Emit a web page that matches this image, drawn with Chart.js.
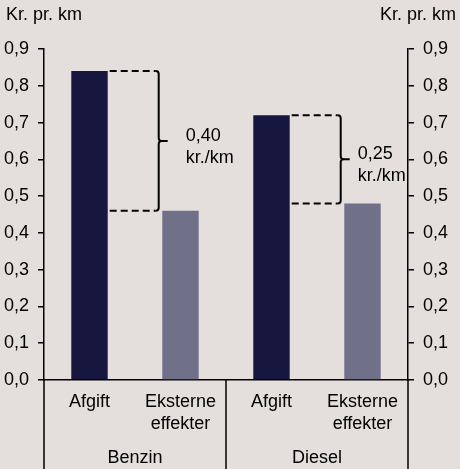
<!DOCTYPE html>
<html>
<head>
<meta charset="utf-8">
<script src="https://cdn.jsdelivr.net/npm/chart.js@4/dist/chart.umd.min.js"></script>
<style>
  html, body { margin: 0; padding: 0; background: #e4dfdd; }
  #wrap { width: 460px; height: 469px; position: relative; }
</style>
</head>
<body>
<div id="wrap"><canvas id="c" width="460" height="469"></canvas></div>
<script>
// Fuel types, each split into tax paid and external costs
const groups = ["Benzin", "Diesel"];
const categories = [["Afgift"], ["Eksterne", "effekter"], ["Afgift"], ["Eksterne", "effekter"]];
const values = [0.84, 0.46, 0.72, 0.48];
const barColors = ["#16163e", "#707089", "#16163e", "#707089"];
// Gap between tax and external cost per fuel type (bar index pairs)
const gapPairs = [[0, 1], [2, 3]];
const gapLabels = ["0,40", "0,25"];
const unitLabel = "kr./km";
const axisTitle = "Kr. pr. km";
const yTicks = [0, 0.1, 0.2, 0.3, 0.4, 0.5, 0.6, 0.7, 0.8, 0.9];

const FONT = "'Liberation Sans', Arial, sans-serif";
const FS = 18;
const fmt = v => v.toFixed(1).replace(".", ",");

const decorations = {
  id: "decorations",
  afterDatasetsDraw(chart) {
    const ctx = chart.ctx;
    const area = chart.chartArea;
    const x = chart.scales.x;
    const y = chart.scales.y;
    const bars = chart.getDatasetMeta(0).data;
    ctx.save();

    // brackets showing the gap between the two bars of each fuel
    gapPairs.forEach((pair, i) => {
      const hi = bars[pair[0]];
      const yTop = y.getPixelForValue(values[pair[0]]);
      const yBot = y.getPixelForValue(values[pair[1]]);
      const x0 = hi.x + hi.width / 2 + 2;
      const bx = x0 + 49;
      const r = 3;
      ctx.strokeStyle = "#000";
      ctx.lineWidth = 2;
      ctx.setLineDash([7, 4]);
      ctx.beginPath();
      ctx.moveTo(x0, yTop); ctx.lineTo(bx - r, yTop);
      ctx.moveTo(x0, yBot); ctx.lineTo(bx - r, yBot);
      ctx.stroke();
      ctx.setLineDash([]);
      const ym = (yTop + yBot) / 2;
      ctx.beginPath();
      ctx.moveTo(bx - r, yTop);
      ctx.quadraticCurveTo(bx, yTop, bx, yTop + r);
      ctx.lineTo(bx, ym - r);
      ctx.quadraticCurveTo(bx, ym, bx + r, ym);
      ctx.lineTo(bx + 9, ym);
      ctx.moveTo(bx + r, ym);
      ctx.quadraticCurveTo(bx, ym, bx, ym + r);
      ctx.lineTo(bx, yBot - r);
      ctx.quadraticCurveTo(bx, yBot, bx - r, yBot);
      ctx.stroke();

      ctx.fillStyle = "#000";
      ctx.font = FS + "px " + FONT;
      ctx.textAlign = "left";
      ctx.textBaseline = "middle";
      const tx = i === 0 ? bx + 27 : bx + 17;
      ctx.fillText(gapLabels[i], tx, ym - 5);
      ctx.fillText(unitLabel, tx, ym + 17);
    });

    // group separators and fuel names under the category labels
    ctx.strokeStyle = "#000";
    ctx.lineWidth = 1.5;
    const H = chart.height;
    const seps = [area.left];
    for (let g = 0; g < groups.length; g++) {
      const right = x.getPixelForValue(g * 2 + 1) + (x.getPixelForValue(1) - x.getPixelForValue(0)) / 2;
      seps.push(right);
    }
    ctx.beginPath();
    seps.forEach(sx => { ctx.moveTo(sx, area.bottom); ctx.lineTo(sx, H); });
    ctx.stroke();
    ctx.fillStyle = "#000";
    ctx.font = FS + "px " + FONT;
    ctx.textAlign = "center";
    ctx.textBaseline = "middle";
    groups.forEach((g, i) => {
      ctx.fillText(g, (seps[i] + seps[i + 1]) / 2, H - 11);
    });

    // unit titles above both value axes
    ctx.textAlign = "left";
    ctx.fillText(axisTitle, 6, 15);
    ctx.textAlign = "right";
    ctx.fillText(axisTitle, chart.width - 4, 15);
    ctx.restore();
  }
};

const yAxis = (pos, width, pad) => ({
  type: "linear",
  position: pos,
  min: 0,
  max: 0.9,
  afterBuildTicks: s => { s.ticks = yTicks.map(v => ({ value: v })); },
  afterFit: s => { s.width = width; },
  ticks: {
    callback: v => fmt(v),
    color: "#000",
    padding: pad,
    font: { family: FONT, size: FS }
  },
  grid: { drawOnChartArea: false, drawTicks: true, tickLength: 6, color: "#000", lineWidth: 1.5 },
  border: { display: true, color: "#000", width: 1.5 }
});

new Chart(document.getElementById("c"), {
  type: "bar",
  data: {
    labels: categories,
    datasets: [{
      data: values,
      backgroundColor: barColors,
      borderWidth: 0,
      barPercentage: 0.4,
      categoryPercentage: 1
    }]
  },
  options: {
    responsive: false,
    animation: false,
    devicePixelRatio: 1,
    layout: { padding: { top: 49, left: 0, right: 0, bottom: 0 } },
    plugins: { legend: { display: false }, tooltip: { enabled: false } },
    scales: {
      x: {
        afterFit: s => { s.height = 89; },
        ticks: {
          color: "#000",
          padding: 12,
          maxRotation: 0,
          autoSkip: false,
          font: { family: FONT, size: FS, lineHeight: 1.17 }
        },
        grid: { display: false, drawTicks: false },
        border: { display: true, color: "#000", width: 1.5 }
      },
      y: yAxis("left", 44, 9),
      y2: yAxis("right", 52, 9)
    }
  },
  plugins: [decorations]
});
</script>
</body>
</html>
